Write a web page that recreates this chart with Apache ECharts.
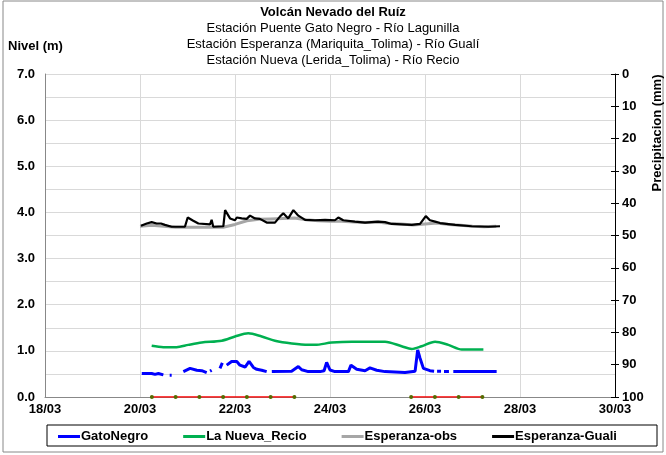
<!DOCTYPE html>
<html><head><meta charset="utf-8">
<script src="https://cdn.jsdelivr.net/npm/echarts@6/dist/echarts.min.js"></script>
<style>html,body{margin:0;padding:0;background:#fff}#c{width:666px;height:455px}</style>
</head><body><div id="c"></div>
<script>
// Hours since 18/03 00:00
var xTickLabels = ['18/03','20/03','22/03','24/03','26/03','28/03','30/03'];

var guali_h = [48.5,51.4,53.9,56.4,58.6,60.6,64.0,70.7,72.1,74.9,77.5,83.4,84.2,85.0,90.1,91.0,93.5,96.0,96.9,99.4,101.9,103.6,106.1,108.6,112.0,116.2,118.7,120.4,122.9,125.5,128.0,131.4,136.4,141.5,146.5,148.2,150.7,156.6,161.7,168.4,171.8,175.2,185.3,189.5,192.4,194.5,197.1,199.6,207.2,215.6,224.0,229.9];
var guali_v = [3.71,3.76,3.79,3.76,3.76,3.73,3.69,3.69,3.89,3.82,3.76,3.74,3.84,3.69,3.70,4.05,3.87,3.83,3.89,3.87,3.86,3.93,3.87,3.86,3.78,3.78,3.91,3.98,3.87,4.05,3.93,3.84,3.83,3.84,3.83,3.89,3.83,3.80,3.78,3.80,3.79,3.75,3.73,3.75,3.92,3.83,3.80,3.77,3.73,3.70,3.69,3.70];

var obs_h = [48,54,60,66,72,78,84,90,96,102,108,114,120,126,132,138,144,150,156,162,168,174,180,186,192,198,204,210,216,222,228];
var obs_v = [3.70,3.72,3.70,3.68,3.68,3.68,3.68,3.68,3.74,3.82,3.85,3.86,3.87,3.88,3.84,3.82,3.81,3.81,3.79,3.78,3.79,3.76,3.75,3.73,3.75,3.77,3.74,3.72,3.70,3.69,3.70];

var recio_h = [53.9,59.8,66.5,72.4,79.2,89.3,96.0,102.7,109.5,116.2,124.7,133.0,136.4,144.9,155.0,171.8,180.2,185.3,190.3,197.1,203.8,210.6,221.5];
var recio_v = [1.11,1.08,1.08,1.13,1.18,1.22,1.31,1.38,1.31,1.22,1.16,1.13,1.13,1.18,1.20,1.20,1.10,1.04,1.10,1.20,1.13,1.03,1.03];

var gato_h = [48.9,53.9,55.6,57.3,59.8,61.5,63.0,64.0,66.0,69.9,73.3,76.7,79.2,81.7,82.6,83.4,84.2,86.3,88.4,89.6,90.7,91.8,94.3,96.9,98.5,101.1,103.1,105.3,107.0,109.5,112.0,113.3,114.6,124.6,128.0,129.7,133.0,139.0,141.0,142.3,144.0,146.5,153.3,154.6,157.5,161.7,164.2,167.6,171.8,181.9,187.0,188.3,189.5,191.2,194.5,196.6,197.3,198.1,200.1,200.9,201.6,204.1,205.2,206.3,228.2];
var gato_v = [0.51,0.51,0.49,0.51,0.48,null,0.47,0.47,null,0.55,0.62,0.58,0.57,0.53,null,0.56,0.58,null,0.62,0.74,null,0.69,0.77,0.77,0.69,0.65,0.77,0.64,0.60,0.58,0.55,null,0.55,0.56,0.66,0.59,0.55,0.55,0.57,0.75,0.585,0.55,0.55,0.69,0.60,0.57,0.63,0.58,0.55,0.53,0.56,1.02,0.84,0.62,0.57,0.56,null,0.56,0.56,null,0.55,0.55,null,0.55,0.55];

var rain_h = [54,66,78,90,102,114,126,null,185,197,209,221];
var rain_v = [0,0,0,0,0,0,0,null,0,0,0,0];

function pairs(h, v){ return h.map(function(x,i){ return [x===null?(h[i-1]+1):x, v[i]]; }); }

var chart = echarts.init(document.getElementById('c'));
var F = 'Liberation Sans, Arial, sans-serif';
chart.setOption({
  animation:false,
  textStyle:{fontFamily:F},
  grid:{left:45,right:51,top:74,bottom:58},
  xAxis:{type:'value',min:0,max:288,interval:48,
    axisLine:{lineStyle:{color:'#888',width:1}},axisTick:{show:false},
    splitLine:{show:true,lineStyle:{color:'#d9d9d9',width:1}},
    axisLabel:{margin:6,color:'#000',fontWeight:'bold',fontSize:13,fontFamily:F,
      formatter:function(v){return xTickLabels[Math.round(v/48)];}}},
  yAxis:[
    {type:'value',position:'left',min:0,max:7,interval:0.5,
     axisLine:{show:true,lineStyle:{color:'#888'}},axisTick:{show:false},
     splitLine:{show:true,lineStyle:{color:'#d9d9d9',width:1}},
     axisLabel:{margin:10,color:'#000',fontWeight:'bold',fontSize:13,fontFamily:F,
       formatter:function(v){return Math.abs(v-Math.round(v))<1e-6? v.toFixed(1):'';}}},
    {type:'value',position:'right',inverse:true,min:0,max:100,interval:10,
     axisLine:{show:true,lineStyle:{color:'#000'}},
     axisTick:{show:true,length:4,lineStyle:{color:'#000'}},
     splitLine:{show:false},
     axisLabel:{margin:7,color:'#000',fontWeight:'bold',fontSize:13,fontFamily:F}},
    {type:'value',position:'right',inverse:true,min:0,max:100,interval:10,
     axisLine:{show:false},axisTick:{show:true,inside:true,length:4,lineStyle:{color:'#000'}},
     splitLine:{show:false},axisLabel:{show:false}}
  ],
  legend:{left:58,top:430,itemGap:35,itemWidth:22,itemHeight:3,padding:0,
    textStyle:{fontWeight:'bold',fontSize:13,color:'#000',fontFamily:F,padding:[0,0,0,-4]},
    data:[{name:'GatoNegro',icon:'rect'},{name:'La Nueva_Recio',icon:'rect'},
          {name:'Esperanza-obs',icon:'rect'},{name:'Esperanza-Guali',icon:'rect'}]},
  series:[
    {name:'Esperanza-obs',type:'line',data:pairs(obs_h,obs_v),showSymbol:false,
      lineStyle:{color:'#a6a6a6',width:3},itemStyle:{color:'#a6a6a6'},z:2},
    {name:'Esperanza-Guali',type:'line',data:pairs(guali_h,guali_v),showSymbol:false,
      lineStyle:{color:'#000',width:2.2},itemStyle:{color:'#000'},z:3},
    {name:'La Nueva_Recio',type:'line',data:pairs(recio_h,recio_v),showSymbol:false,smooth:0.3,
      lineStyle:{color:'#00b050',width:2.5},itemStyle:{color:'#00b050'},z:3},
    {name:'GatoNegro',type:'line',data:pairs(gato_h,gato_v),showSymbol:false,connectNulls:false,
      lineStyle:{color:'#0000ff',width:3},itemStyle:{color:'#0000ff'},z:4},
    {name:'Precipitacion',type:'line',data:pairs(rain_h,rain_v),symbol:'circle',symbolSize:4,showSymbol:true,
      connectNulls:false,lineStyle:{color:'#ff0000',width:1.5},itemStyle:{color:'#556b00'},z:5}
  ],
  graphic:[
    {type:'rect',shape:{x:3,y:1,width:660,height:451},style:{fill:null,stroke:'#888',lineWidth:1},silent:true},
    {type:'rect',shape:{x:47,y:425,width:610,height:21},style:{fill:null,stroke:'#000',lineWidth:1},silent:true},
    {type:'text',x:333,y:12,style:{text:'Volcán Nevado del Ruíz',font:'bold 13px '+F,fill:'#000',textAlign:'center',textVerticalAlign:'middle'}},
    {type:'text',x:333,y:28,style:{text:'Estación Puente Gato Negro - Río Lagunilla',font:'13px '+F,fill:'#000',textAlign:'center',textVerticalAlign:'middle'}},
    {type:'text',x:333,y:44,style:{text:'Estación Esperanza (Mariquita_Tolima) - Río Gualí',font:'13px '+F,fill:'#000',textAlign:'center',textVerticalAlign:'middle'}},
    {type:'text',x:333,y:60,style:{text:'Estación Nueva (Lerida_Tolima) - Río Recio',font:'13px '+F,fill:'#000',textAlign:'center',textVerticalAlign:'middle'}},
    {type:'text',x:8,y:46,style:{text:'Nivel (m)',font:'bold 13px '+F,fill:'#000',textAlign:'left',textVerticalAlign:'middle'}},
    {type:'text',x:657,y:133,rotation:Math.PI/2,style:{text:'Precipitacion (mm)',font:'bold 13px '+F,fill:'#000',textAlign:'center',textVerticalAlign:'middle'}}
  ]
});
</script></body></html>
